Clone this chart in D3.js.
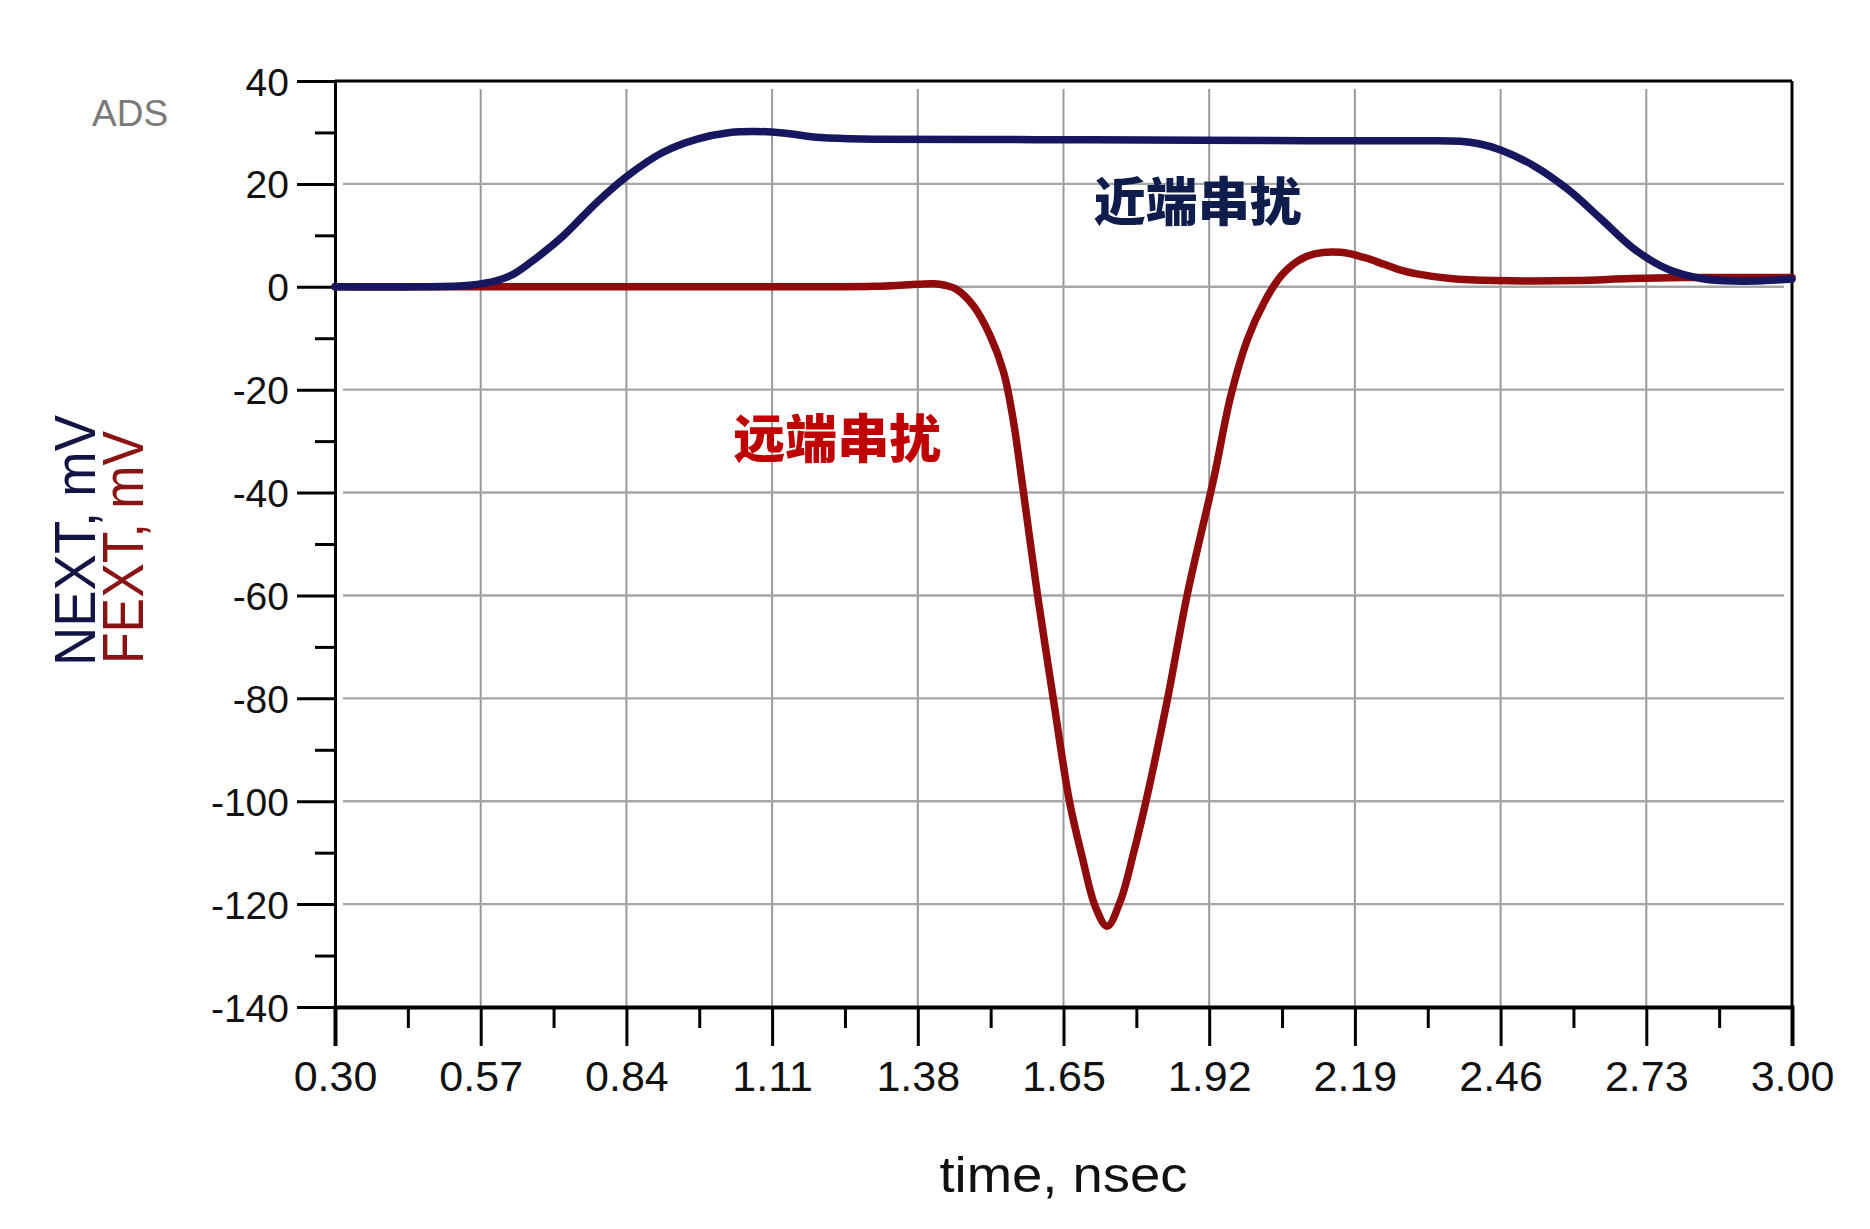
<!DOCTYPE html>
<html>
<head>
<meta charset="utf-8">
<script src="https://cdn.jsdelivr.net/npm/d3@7"></script>
<style>
  html, body { margin: 0; padding: 0; background: #ffffff; }
  svg { display: block; }
</style>
</head>
<body>
<svg id="chart" width="1870" height="1229"></svg>
<script>
// ---- data ----
const xTickLabels = ["0.30","0.57","0.84","1.11","1.38","1.65","1.92","2.19","2.46","2.73","3.00"];
const yTickValues = [40, 20, 0, -20, -40, -60, -80, -100, -120, -140];

const nextTime = [0.30,0.45,0.55,0.60,0.63,0.662,0.723,0.785,0.84,0.907,0.971,1.032,1.08,1.13,1.2,1.3,1.6,1.9,2.1,2.3,2.385,2.42,2.46,2.522,2.584,2.646,2.708,2.77,2.832,2.894,2.95,3.0];
const nextValues = [0,0,0.3,1.2,2.4,4.7,9.9,16.4,21.4,26.1,28.7,30.0,30.2,29.9,29.0,28.7,28.6,28.5,28.4,28.4,28.3,27.8,26.6,23.5,19.0,13.2,7.3,3.4,1.6,1.1,1.2,1.5];

const fextTime = [0.30,0.60,1.00,1.30,1.38,1.41,1.43,1.45,1.483,1.514,1.539,1.557,1.572,1.602,1.631,1.661,1.685,1.709,1.731,1.755,1.780,1.805,1.843,1.879,1.929,1.96,1.991,2.022,2.053,2.084,2.115,2.164,2.207,2.243,2.27,2.305,2.367,2.45,2.6,2.7,2.8,3.0];
const fextValues = [0,0,0,0.1,0.5,0.6,0.3,-0.4,-3.7,-9.5,-16.6,-26,-37,-60,-80,-100,-111,-120.5,-124.3,-119.5,-110,-99,-80,-60,-37,-21.2,-10.2,-3.0,2.1,5.0,6.4,6.7,5.7,4.4,3.4,2.5,1.6,1.2,1.2,1.6,1.8,1.8];

const nextLabel = "近端串扰";
const fextLabel = "远端串扰";
const xTitle = "time, nsec";
const yTitleNext = "NEXT, mV";
const yTitleFext = "FEXT, mV";

// ---- layout ----
const L = 335, R = 1792, T = 81, B = 1007;
const svg = d3.select("#chart");
const x = d3.scaleLinear().domain([0.30, 3.00]).range([L, R]);
const y = d3.scaleLinear().domain([-140, 40]).range([B, T]);
const xTicks = xTickLabels.map(Number);
const xMinor = xTicks.slice(0, -1).map((d, i) => (d + xTicks[i + 1]) / 2);
const yMinor = d3.range(-130, 40, 20);

const font = "'Liberation Sans', Arial, sans-serif";

// gridlines
const grid = svg.append("g");
grid.selectAll("line.v").data(xTicks.slice(1, -1)).join("line")
  .attr("x1", d => x(d)).attr("x2", d => x(d))
  .attr("y1", T + 8).attr("y2", B)
  .attr("stroke", "#999999").attr("stroke-width", 2);
grid.selectAll("line.h").data(yTickValues.slice(1, -1)).join("line")
  .attr("x1", L + 8).attr("x2", R - 8)
  .attr("y1", d => y(d)).attr("y2", d => y(d))
  .attr("stroke", "#a6a6a6").attr("stroke-width", 2.4);

// y axis (left) with major and minor ticks
const yAxis = d3.axisLeft(y).tickValues(yTickValues).tickSize(38).tickPadding(8)
  .tickFormat(d => String(d));
const gy = svg.append("g").attr("transform", `translate(${L},0)`).call(yAxis);
gy.select(".domain").attr("stroke", "#000").attr("stroke-width", 3);
gy.selectAll(".tick line").attr("stroke", "#000").attr("stroke-width", 3);
gy.selectAll(".tick text").attr("font-family", font).attr("font-size", 39).attr("fill", "#111")
  .attr("x", -46).attr("dy", "0.36em");
const gyMinor = svg.append("g").attr("transform", `translate(${L},0)`)
  .call(d3.axisLeft(y).tickValues(yMinor).tickSize(20).tickFormat(""));
gyMinor.select(".domain").remove();
gyMinor.selectAll(".tick line").attr("stroke", "#000").attr("stroke-width", 3);

// x axis (bottom)
const xAxis = d3.axisBottom(x).tickValues(xTicks).tickSize(39).tickPadding(12)
  .tickFormat((d, i) => xTickLabels[i]);
const gx = svg.append("g").attr("transform", `translate(0,${B})`).call(xAxis);
gx.select(".domain").attr("stroke", "#000").attr("stroke-width", 4);
gx.selectAll(".tick line").attr("stroke", "#000").attr("stroke-width", 3);
gx.selectAll(".tick text").attr("font-family", font).attr("font-size", 43).attr("fill", "#111")
  .attr("y", 84).attr("dy", 0);
const gxMinor = svg.append("g").attr("transform", `translate(0,${B})`)
  .call(d3.axisBottom(x).tickValues(xMinor).tickSize(21).tickFormat(""));
gxMinor.select(".domain").remove();
gxMinor.selectAll(".tick line").attr("stroke", "#000").attr("stroke-width", 3);

// frame top & right
svg.append("line").attr("x1", L).attr("x2", R).attr("y1", T).attr("y2", T).attr("stroke", "#000").attr("stroke-width", 3);
svg.append("line").attr("x1", R).attr("x2", R).attr("y1", T).attr("y2", B).attr("stroke", "#000").attr("stroke-width", 3);

// series
const line = d3.line().x(d => x(d[0])).y(d => y(d[1])).curve(d3.curveCatmullRom.alpha(0.5));
const fextData = fextTime.map((t, i) => [t, fextValues[i]]);
const nextData = nextTime.map((t, i) => [t, nextValues[i]]);
svg.append("path").datum(fextData).attr("d", line)
  .attr("fill", "none").attr("stroke", "#900c0c").attr("stroke-width", 7.5)
  .attr("stroke-linejoin", "round").attr("stroke-linecap", "round");
svg.append("path").datum(nextData).attr("d", line)
  .attr("fill", "none").attr("stroke", "#17175f").attr("stroke-width", 7.5)
  .attr("stroke-linejoin", "round").attr("stroke-linecap", "round");

// annotations
const cjk = "'Noto Sans CJK SC', sans-serif";
svg.append("text").attr("x", x(1.706)).attr("y", y(12.8))
  .attr("font-family", cjk).attr("font-weight", 900).attr("font-size", 52)
  .attr("fill", "#0f1d4c").text(nextLabel);
svg.append("text").attr("x", x(1.038)).attr("y", y(-33.3))
  .attr("font-family", cjk).attr("font-weight", 900).attr("font-size", 52)
  .attr("fill", "#c00000").text(fextLabel);

// ADS mark
svg.append("text").attr("x", 92).attr("y", 126)
  .attr("font-family", font).attr("font-size", 37).attr("fill", "#7a7a7a").text("ADS");

// axis titles
svg.append("text").attr("x", (L + R) / 2).attr("y", 1192).attr("text-anchor", "middle")
  .attr("font-family", font).attr("font-size", 50).attr("fill", "#111")
  .attr("textLength", 248).attr("lengthAdjust", "spacingAndGlyphs").text(xTitle);
svg.append("text").attr("transform", "translate(95,666) rotate(-90)")
  .attr("font-family", font).attr("font-size", 58).attr("fill", "#141444")
  .attr("textLength", 251).attr("lengthAdjust", "spacingAndGlyphs").text(yTitleNext);
svg.append("text").attr("transform", "translate(143,664) rotate(-90)")
  .attr("font-family", font).attr("font-size", 58).attr("fill", "#8a1414")
  .attr("textLength", 233).attr("lengthAdjust", "spacingAndGlyphs").text(yTitleFext);
</script>
</body>
</html>
